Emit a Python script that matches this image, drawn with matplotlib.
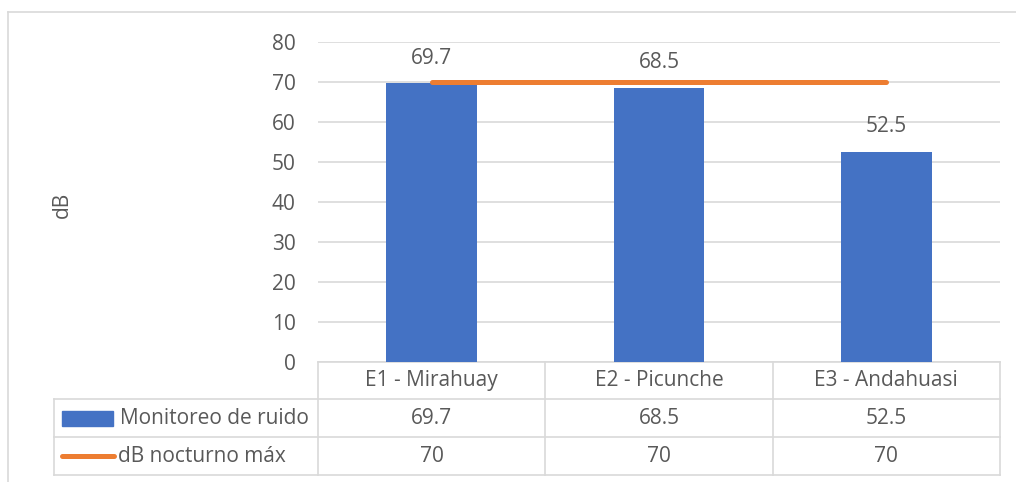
import matplotlib.pyplot as plt
from matplotlib.lines import Line2D
from matplotlib.patches import Rectangle

categories = ['E1 - Mirahuay', 'E2 - Picunche', 'E3 - Andahuasi']
ruido = [69.7, 68.5, 52.5]
nocturno_max = [70, 70, 70]
series_names = ['Monitoreo de ruido', 'dB nocturno máx']
yticks = [0, 10, 20, 30, 40, 50, 60, 70, 80]

blue = '#4472C4'
orange = '#ED7D31'
grey = '#D9D9D9'
txt = '#595959'
fs = 15

plt.rcParams['font.family'] = ['Open Sans', 'DejaVu Sans']

fig = plt.figure(figsize=(10.16, 4.82), dpi=100, facecolor='white')
ax = fig.add_axes([318 / 1016, 120 / 482, 682 / 1016, 320 / 482])

# outer chart frame (right and bottom edges fall outside the picture)
fig.add_artist(Line2D([8 / 1016, 8 / 1016], [0, 470 / 482], color=grey, lw=1.2, transform=fig.transFigure))
fig.add_artist(Line2D([8 / 1016, 1], [470 / 482, 470 / 482], color=grey, lw=1.2, transform=fig.transFigure))

x = list(range(len(categories)))
ax.bar(x, ruido, width=0.4, color=blue, zorder=3)
ax.plot(x, nocturno_max, color=orange, lw=3.6, solid_capstyle='round', zorder=4)

for xi, v in zip(x, ruido):
    ax.annotate(f'{v}', (xi, v), xytext=(0, 18), textcoords='offset points',
                ha='center', va='center', fontsize=fs, color=txt)

ax.set_xlim(-0.5, 2.5)
ax.set_ylim(0, 80)
ax.set_yticks(yticks)
ax.set_xticks([])
ax.tick_params(axis='y', length=0, pad=16, labelsize=fs, labelcolor=txt)
ax.grid(axis='y', color=grey, lw=1.2, zorder=0)
for s in ax.spines.values():
    s.set_visible(False)
ax.text(-0.375, 0.49, 'dB', rotation=90, ha='center', va='center',
        fontsize=fs, color=txt, transform=ax.transAxes)

# data table under the plot
tr = ax.transAxes
left = (54 - 318) / 682
rows = [0, -37 / 320, -75 / 320, -113 / 320]
cols = [0, 1 / 3, 2 / 3, 1]
kw = dict(color=grey, lw=1.2, transform=tr, clip_on=False)
ax.add_line(Line2D([0, 1], [0, 0], **kw))
for r in rows[1:]:
    ax.add_line(Line2D([left, 1], [r, r], **kw))
for c in cols:
    ax.add_line(Line2D([c, c], [0, rows[-1]], **kw))
ax.add_line(Line2D([left, left], [rows[1], rows[-1]], **kw))

def mid(i):
    return (rows[i] + rows[i + 1]) / 2

for j, cat in enumerate(categories):
    cx = (cols[j] + cols[j + 1]) / 2
    ax.text(cx, mid(0), cat, ha='center', va='center', fontsize=fs, color=txt, transform=tr)
    ax.text(cx, mid(1), f'{ruido[j]}', ha='center', va='center', fontsize=fs, color=txt, transform=tr)
    ax.text(cx, mid(2), f'{nocturno_max[j]}', ha='center', va='center', fontsize=fs, color=txt, transform=tr)

# legend keys in the first column
px = 1 / 682
py = 1 / 320
ax.add_patch(Rectangle((left + 8 * px, mid(1) - 7.5 * py), 51 * px, 15 * py,
                       color=blue, transform=tr, clip_on=False))
ax.add_line(Line2D([left + 8 * px, left + 60 * px], [mid(2), mid(2)], color=orange, lw=3.6,
                   solid_capstyle='round', transform=tr, clip_on=False))
ax.text(left + 66 * px, mid(1), series_names[0], ha='left', va='center', fontsize=fs, color=txt, transform=tr)
ax.text(left + 64 * px, mid(2), series_names[1], ha='left', va='center', fontsize=fs, color=txt, transform=tr)

fig.savefig('out.png', dpi=100, facecolor='white')
